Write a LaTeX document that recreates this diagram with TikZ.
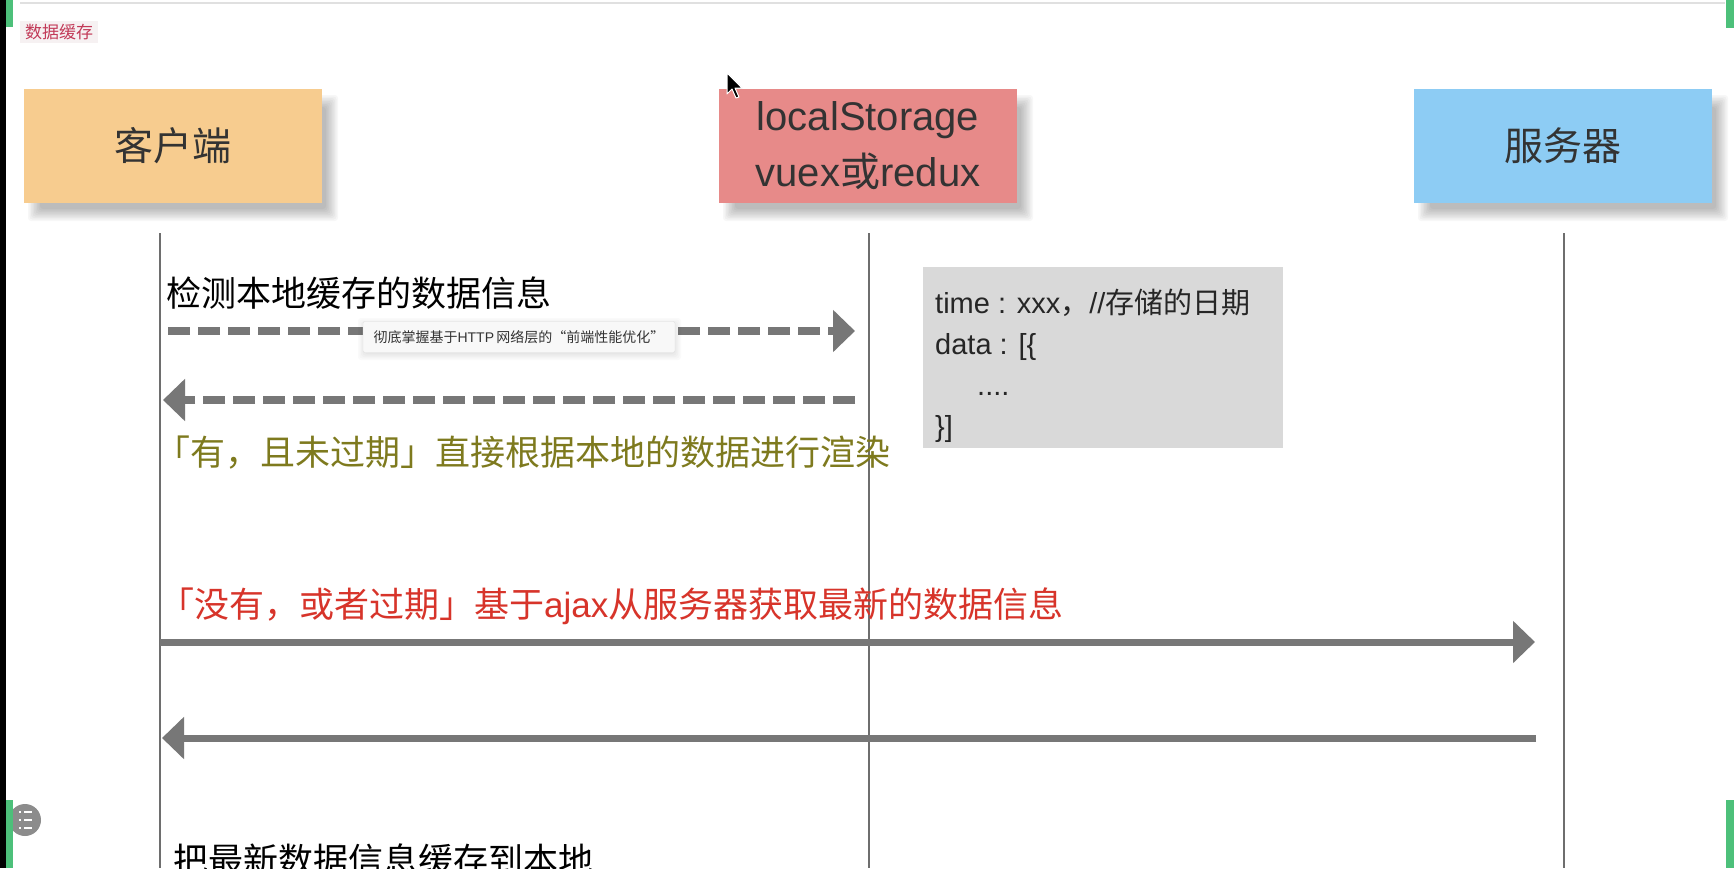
\documentclass[tikz,border=0pt]{standalone}
\usepackage{fontspec}
\setmainfont{Liberation Sans}
\newfontfamily\cjk{Noto Sans CJK SC}
\usetikzlibrary{arrows.meta}
\definecolor{clientc}{HTML}{F7CC8F}
\definecolor{lsc}{HTML}{E78A89}
\definecolor{serverc}{HTML}{8DCCF4}
\definecolor{boxtext}{HTML}{333333}
\definecolor{arrowc}{HTML}{777777}
\definecolor{lifec}{HTML}{6E6E6E}
\definecolor{codebg}{HTML}{D9D9D9}
\definecolor{olivec}{HTML}{7E7A1E}
\definecolor{redc}{HTML}{D7342A}
\definecolor{labelc}{HTML}{C23A58}
\definecolor{labelbg}{HTML}{F6F1F2}
\definecolor{greenc}{HTML}{4DC07A}
\definecolor{tipbg}{HTML}{F8F8F8}
\newcommand\mysoftshadow[5]{%
  \foreach \d in {-6,-4.5,...,6} {
    \fill[black, opacity=#5, rounded corners=3pt] (#1+\d,#2+\d) rectangle (#3-\d,#4-\d);
  }}
\tikzset{
  actor/.style={rectangle, minimum width=298pt, minimum height=114pt, inner sep=0pt,
    text=boxtext},
  actorcjk/.style={actor, font=\cjk\fontsize{39}{47}\selectfont},
  lifeline/.style={draw=lifec, line width=2pt},
  dasharrow/.style={draw=arrowc, line width=8pt, dash pattern=on 22pt off 8pt,
    -{Triangle[length=22pt,width=41pt]}},
  solidarrow/.style={draw=arrowc, line width=7pt,
    -{Triangle[length=22pt,width=41pt]}},
  msg/.style={anchor=base west, inner sep=0pt, font=\cjk\fontsize{35}{40}\selectfont},
  codeline/.style={anchor=base west, inner sep=0pt, text=black!85,
    font=\fontsize{29}{34}\selectfont}
}
\begin{document}
\begin{tikzpicture}[x=1pt,y=-1pt]
\useasboundingbox (0,0) rectangle (1734,868);
\clip (0,0) rectangle (1734,868);
\fill[white] (0,0) rectangle (1734,868);

% screen frame details
\draw[black!12, line width=1.5pt] (20,3) -- (1725,3);
\fill[black!45] (25,820) circle (16pt);
\foreach \yy in {812,820,828} {
  \draw[white, line width=2pt] (19,\yy) -- (21,\yy);
  \draw[white, line width=2pt] (24,\yy) -- (32,\yy);
}
\fill[black] (0,0) rectangle (6,868);
\fill[greenc] (6,0) rectangle (13,27);
\fill[greenc] (6,800) rectangle (13,868);
\fill[greenc] (1726,0) rectangle (1734,28);
\fill[greenc] (1726,800) rectangle (1734,868);

% title label
\node[fill=labelbg, text=labelc, minimum width=78pt, minimum height=22pt, inner sep=0pt,
  font=\cjk\fontsize{17}{20}\selectfont] (title) at (59,32) {数据缓存};

% shadows of the actor boxes
\mysoftshadow{34}{101}{332}{215}{0.032}
\mysoftshadow{729}{101}{1027}{215}{0.032}
\mysoftshadow{1424}{101}{1722}{215}{0.032}

% actors
\node[actorcjk, fill=clientc] (client) at (173,146) {客户端};
\node[actor, fill=lsc, align=center, font=\fontsize{40}{56}\selectfont] (ls) at (868,146)
  {localStorage\\vuex{\cjk 或}redux};
\node[actorcjk, fill=serverc] (server) at (1563,146) {服务器};

% lifelines
\coordinate (cltop) at (160,233); \coordinate (clbot) at (160,868);
\coordinate (lstop) at (869,233); \coordinate (lsbot) at (869,868);
\coordinate (svtop) at (1564,233); \coordinate (svbot) at (1564,868);
\draw[lifeline] (cltop) -- (clbot);
\draw[lifeline] (lstop) -- (lsbot);
\draw[lifeline] (svtop) -- (svbot);

% stored data box
\node[fill=codebg, minimum width=360pt, minimum height=181pt, inner sep=0pt, anchor=north west]
  (store) at (923,267) {};
\node[codeline] (c1) at (935,313) {time : xxx{\cjk ，}//{\cjk 存储的日期}};
\node[codeline] (c2) at (935,354) {data : [\{};
\node[codeline] (c3) at (977,395) {....};
\node[codeline] (c4) at (935,436) {\}]};

% messages
\node[msg, text=black] (m1) at (166,306) {检测本地缓存的数据信息};
\coordinate (a1s) at (168,331); \coordinate (a1e) at (855,331);
\draw[dasharrow] (a1s) -- (a1e);
\coordinate (a2s) at (855,400); \coordinate (a2e) at (163,400);
\draw[dasharrow] (a2s) -- (a2e);
\node[msg, text=olivec] (m2) at (155,465) {「有，且未过期」直接根据本地的数据进行渲染};

\node[msg, text=redc] (m3) at (159,617) {「没有，或者过期」基于{\fontspec{Liberation Sans}ajax}从服务器获取最新的数据信息};
\coordinate (a3s) at (160,642); \coordinate (a3e) at (1535,642);
\draw[solidarrow] (a3s) -- (a3e);
\coordinate (a4s) at (1536,738); \coordinate (a4e) at (162,738);
\draw[solidarrow] (a4s) -- (a4e);

\node[msg, text=black] (m4) at (173,873) {把最新数据信息缓存到本地};

% tooltip overlay
\mysoftshadow{364}{324}{675}{354}{0.018}
\node[fill=tipbg, draw=black!12, rounded corners=2pt, minimum width=312pt, minimum height=31pt,
  inner sep=0pt, text=black!80, font=\cjk\fontsize{14}{16}\selectfont]
  (tooltip) at (519,337) {彻底掌握基于{\fontspec{Liberation Sans}HTTP\,}网络层的“前端性能优化”};

% mouse cursor
\filldraw[fill=black, draw=white, line width=1pt, line join=round]
  (727,73) -- (727,94) -- (732,89) -- (736,98) -- (739,97) -- (735,88) -- (742,88) -- cycle;
\end{tikzpicture}
\end{document}
